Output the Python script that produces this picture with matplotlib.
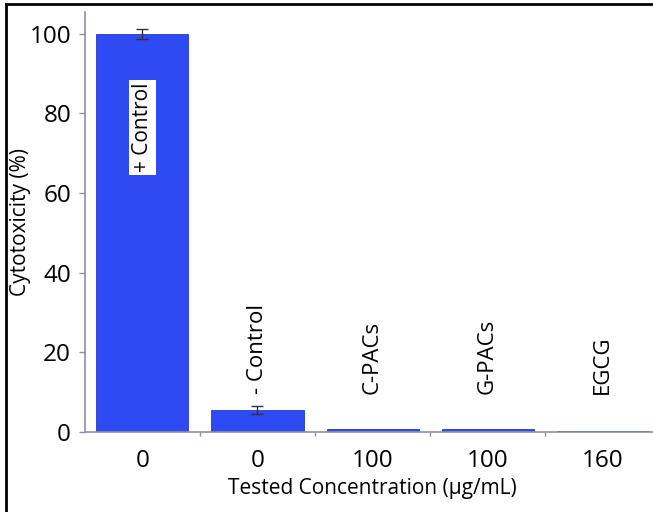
import matplotlib.pyplot as plt
from matplotlib.lines import Line2D

plt.rcParams['font.family'] = ['Open Sans', 'DejaVu Sans']

# data
groups = ['+ Control', '- Control', 'C-PACs', 'G-PACs', 'EGCG']
concentrations = ['0', '0', '100', '100', '160']
cytotoxicity = [100, 5.5, 0.8, 0.8, 0.4]
errors = [1.3, 1.0, 0, 0, 0]

bar_color = '#2E4AF2'
axis_color = '#8C90A6'

fig = plt.figure(figsize=(6.53, 5.12), dpi=100)
ax = fig.add_axes([0.130, 0.156, 0.881, 0.821])

x = list(range(len(groups)))
ax.bar(x, cytotoxicity, width=0.8, color=bar_color, edgecolor='#2538C8', linewidth=0.6)
ax.errorbar(x[:2], cytotoxicity[:2], yerr=errors[:2], fmt='none', ecolor='#333333',
            elinewidth=1, capsize=4, capthick=1)

ax.set_xlim(-0.5, 4.5)
ax.set_ylim(0, 105.5)
ax.set_yticks([0, 20, 40, 60, 80, 100])
ax.tick_params(axis='y', labelsize=17.5, color=axis_color, length=4, width=1, pad=6)
ax.set_xticks(x)
ax.set_xticklabels(concentrations)
ax.tick_params(axis='x', labelsize=17.5, length=0, pad=12)
ax.set_xticks([0.5, 1.5, 2.5, 3.5], minor=True)
ax.tick_params(axis='x', which='minor', color=axis_color, length=3, width=1)

for side in ['top', 'right']:
    ax.spines[side].set_visible(False)
for side in ['left', 'bottom']:
    ax.spines[side].set_color(axis_color)
    ax.spines[side].set_linewidth(1.2)

ax.set_ylabel('Cytotoxicity (%)', fontsize=15)
ax.yaxis.set_label_coords(-0.093, 0.5)
ax.set_xlabel('Tested Concentration (\u00b5g/mL)', fontsize=15, labelpad=4)

# group labels
ax.text(x[0], 76.5, groups[0], rotation=90, ha='center', va='center', fontsize=15,
        bbox=dict(facecolor='white', edgecolor='none', pad=2))
for i in range(1, len(groups)):
    ax.text(x[i], 9.5, groups[i], rotation=90, ha='center', va='bottom', fontsize=16)

# frame lines of the cropped figure
fig.add_artist(Line2D([6 / 653, 1], [1 - 4 / 512, 1 - 4 / 512], color='black', lw=2,
                      transform=fig.transFigure))
fig.add_artist(Line2D([6 / 653, 6 / 653], [0, 1 - 4 / 512], color='black', lw=2,
                      transform=fig.transFigure))

fig.savefig('out.png', dpi=100)
